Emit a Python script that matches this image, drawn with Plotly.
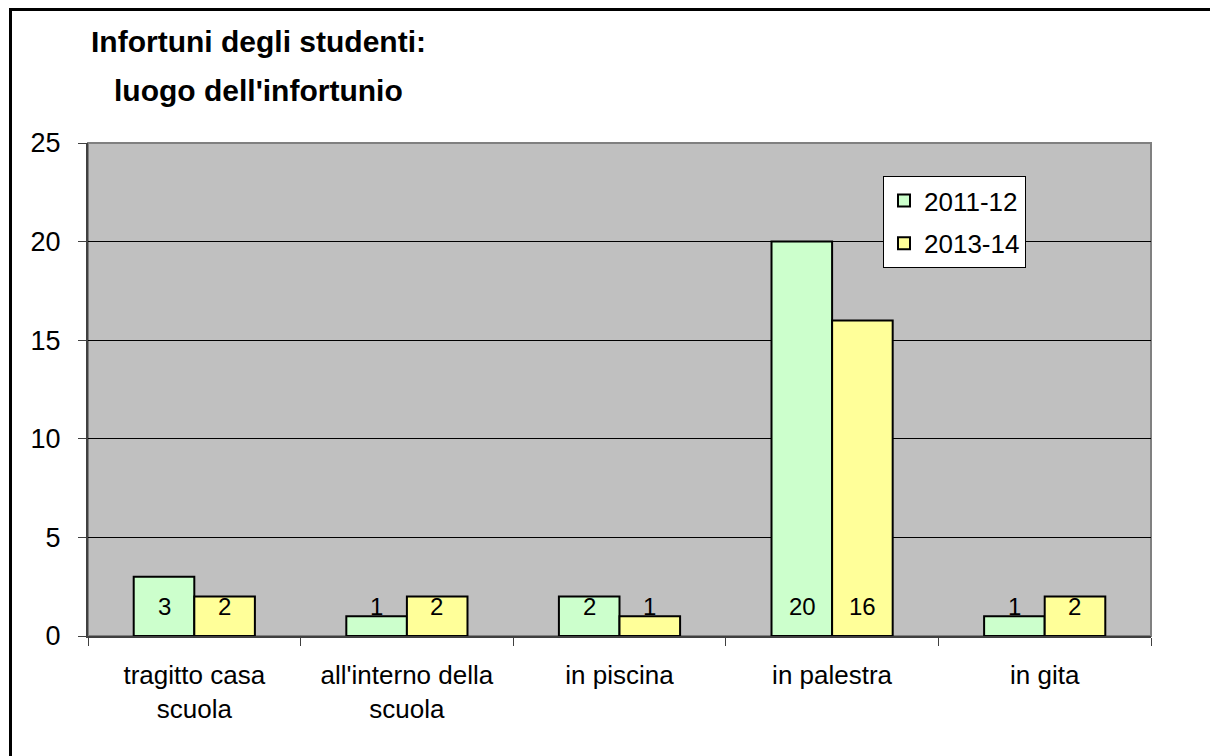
import plotly.graph_objects as go

# Categories and yearly counts
categories = ["tragitto casa<br>scuola", "all'interno della<br>scuola", "in piscina", "in palestra", "in gita"]
series_names = ["2011-12", "2013-14"]
values_2011_12 = [3, 1, 2, 20, 1]
values_2013_14 = [2, 2, 1, 16, 2]
y_ticks = [0, 5, 10, 15, 20, 25]

W, H = 1210, 756
ML, MR, MT, MB = 88, 59, 143, 120
PW, PH = W - ML - MR, H - MT - MB

FONT = "Liberation Sans, Arial, sans-serif"
colors = ["#CCFFCC", "#FFFF99"]
series = [values_2011_12, values_2013_14]

fig = go.Figure()
for i, (name, vals) in enumerate(zip(series_names, series)):
    fig.add_trace(go.Bar(
        name=name, x=categories, y=vals,
        marker=dict(color=colors[i], line=dict(color="#000000", width=2)),
        legendgroup=name,
    ))

# value labels, sitting a fixed distance above the baseline
annotations = []
for i, vals in enumerate(series):
    shift = -30 if i == 0 else 30
    for cat, v in zip(categories, vals):
        annotations.append(dict(
            x=cat, y=0, xref="x", yref="y", text=str(v), showarrow=False,
            xshift=shift, yshift=30, yanchor="middle",
            font=dict(family=FONT, size=24, color="#000000"),
        ))

def px_x(p):
    return (p - ML) / PW

def px_y(p):
    return (H - MB - p) / PH

# two-line title
annotations.append(dict(x=px_x(258), y=px_y(41), xref="paper", yref="paper",
                        text="<b>Infortuni degli studenti:</b>", showarrow=False,
                        xanchor="center", yanchor="middle",
                        font=dict(family=FONT, size=30, color="#000000")))
annotations.append(dict(x=px_x(258), y=px_y(90), xref="paper", yref="paper",
                        text="<b>luogo dell'infortunio</b>", showarrow=False,
                        xanchor="center", yanchor="middle",
                        font=dict(family=FONT, size=30, color="#000000")))

shapes = [
    # outer chart frame
    dict(type="rect", xref="paper", yref="paper",
         x0=px_x(10.5), x1=px_x(W + 20), y0=px_y(9.5), y1=px_y(H + 20),
         line=dict(color="#000000", width=3), fillcolor="rgba(0,0,0,0)", layer="above"),
    # plot area border
    dict(type="rect", xref="paper", yref="paper", x0=0, x1=1, y0=0, y1=1,
         line=dict(color="#808080", width=2), fillcolor="rgba(0,0,0,0)", layer="below"),
]

fig.update_layout(
    width=W, height=H,
    margin=dict(l=ML, r=MR, t=MT, b=MB, pad=0),
    paper_bgcolor="#FFFFFF",
    plot_bgcolor="#C0C0C0",
    barmode="group",
    bargap=0.43,
    bargroupgap=0,
    showlegend=True,
    legend=dict(
        x=px_x(883), y=px_y(176), xanchor="left", yanchor="top",
        bgcolor="#FFFFFF", bordercolor="#000000", borderwidth=1,
        font=dict(family=FONT, size=26, color="#000000"),
        traceorder="grouped", tracegroupgap=6,
    ),
    annotations=annotations,
    shapes=shapes,
    xaxis=dict(
        showgrid=False, showline=True, linecolor="#404040", linewidth=2,
        ticks="outside", tickson="boundaries", ticklen=8, tickcolor="#404040", tickwidth=1,
        tickfont=dict(family=FONT, size=26, color="#000000"),
        ticklabelstandoff=15,
    ),
    yaxis=dict(
        range=[0, 25], tickvals=y_ticks, ticktext=[str(t) for t in y_ticks],
        showgrid=True, gridcolor="#000000", gridwidth=1,
        showline=True, linecolor="#404040", linewidth=2, zeroline=False,
        ticks="outside", ticklen=8, tickcolor="#404040", tickwidth=1,
        tickfont=dict(family=FONT, size=27, color="#000000"),
        ticklabelstandoff=12,
    ),
)

fig.write_html("out.html")
